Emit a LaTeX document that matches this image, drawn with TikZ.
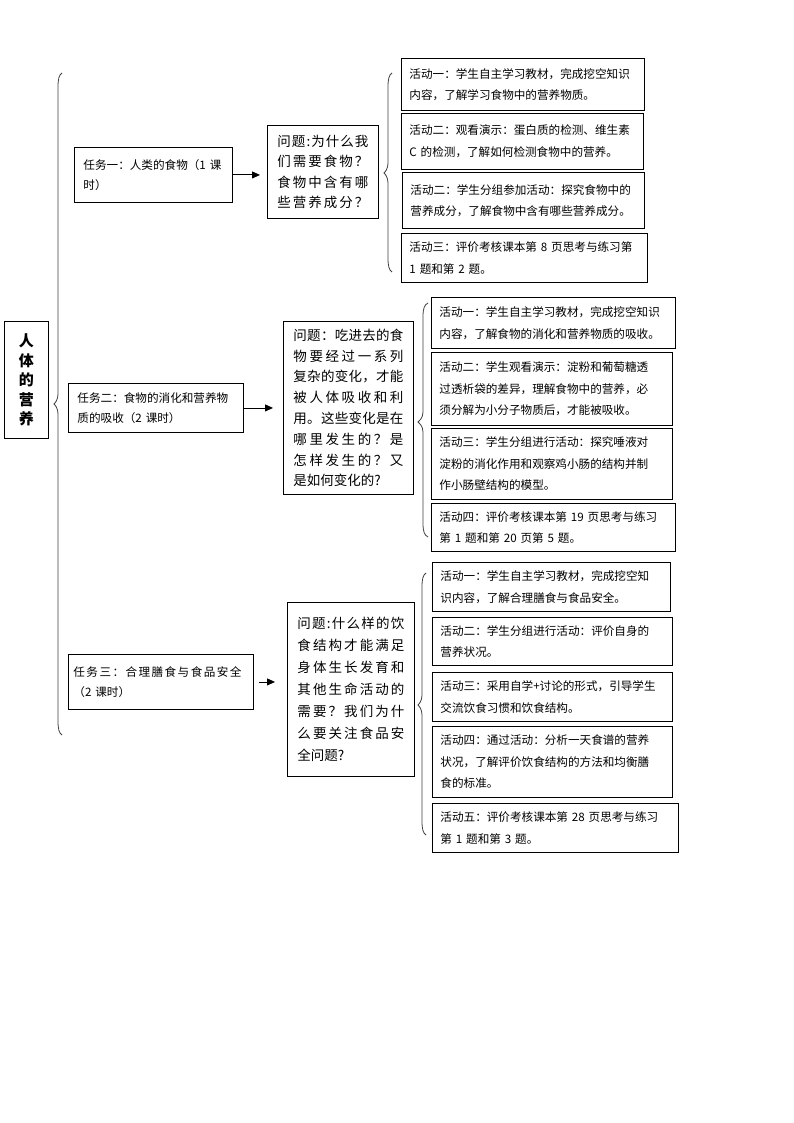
\documentclass[tikz,border=0pt]{standalone}
\usepackage{fontspec}
\setmainfont{Noto Sans CJK SC}
\usetikzlibrary{arrows.meta}
\makeatletter
\newcommand\jl[2][\hsize]{\makebox[#1][s]{\@tfor\jlc:=#2\do{\jlc\hfill}\unskip}}
\makeatother
\tikzset{
  bx/.style={draw=black, line width=0.9pt, anchor=north west, align=left, inner ysep=1pt},
  actbox/.style={bx, inner xsep=8pt, font=\fontsize{11.6}{21.5}\selectfont},
  taskbox/.style={bx, inner xsep=9pt, font=\fontsize{11.6}{20}\selectfont},
  qbox/.style={bx, inner xsep=10pt},
  titlebox/.style={bx, align=center, inner xsep=2pt, font=\fontsize{15}{19.5}\selectfont\bfseries},
  arr/.style={line width=0.9pt, -{Triangle[length=8pt,width=7pt]}},
  bracestyle/.style={draw=black!75, line width=0.8pt}
}
\newcommand\wbrace[6]{%
  \draw[bracestyle] (#1,#4) .. controls (#2+1,#4+2) and (#2,#4+6) .. (#2,#4+14)
    -- (#2,#5-10) .. controls (#2,#5-4) and (#3+1,#5-1) .. (#3,#5)
    .. controls (#3+1,#5+1) and (#2,#5+4) .. (#2,#5+10)
    -- (#2,#6-14) .. controls (#2,#6-6) and (#2+1,#6-2) .. (#1,#6);}
\begin{document}
\begin{tikzpicture}[x=1pt,y=-1pt]
\useasboundingbox (0,0) rectangle (794,1123);
\fill[white] (0,0) rectangle (794,1123);

% title
\node[titlebox, minimum width=44pt, minimum height=117pt] (title) at (4,321) {人\\体\\的\\营\\养};

% braces
\wbrace{62}{58}{54}{73}{404}{735}
\wbrace{392}{388}{384}{73}{173}{272}
\wbrace{428}{423}{418}{303}{422}{537}
\wbrace{426}{422}{418}{573}{705}{835}

% tasks
\node[taskbox, minimum width=158pt, minimum height=55pt, text width=140pt] (t1) at (74,147)
  {任务一：人类的食物（1 课\\时）};
\node[taskbox, minimum width=175pt, minimum height=49pt, text width=157pt] (t2) at (68,383)
  {任务二：食物的消化和营养物\\质的吸收（2 课时）};
\node[taskbox, inner xsep=5pt, minimum width=185pt, minimum height=55pt, text width=175pt] (t3) at (68,654)
  {\jl[168pt]{任务三：合理膳食与食品安全}\\（2 课时）};

% questions
\node[qbox, minimum width=111pt, minimum height=93pt, text width=91pt, font=\fontsize{13.5}{20.5}\selectfont] (q1) at (267,125)
  {\jl{问题:为什么我}\\\jl{们需要食物？}\\\jl{食物中含有哪}\\\jl{些营养成分？}};
\node[qbox, minimum width=130pt, minimum height=173pt, text width=110pt, font=\fontsize{13.5}{20.8}\selectfont] (q2) at (283,321)
  {\jl{问题：吃进去的食}\\\jl{物要经过一系列}\\\jl{复杂的变化，才能}\\\jl{被人体吸收和利}\\\jl{用。这些变化是在}\\\jl{哪里发生的？是}\\\jl{怎样发生的？又}\\是如何变化的?};
\node[qbox, minimum width=127pt, minimum height=174pt, text width=107pt, font=\fontsize{13.5}{22}\selectfont] (q3) at (287,602)
  {\jl{问题:什么样的饮}\\\jl{食结构才能满足}\\\jl{身体生长发育和}\\\jl{其他生命活动的}\\\jl{需要？我们为什}\\\jl{么要关注食品安}\\全问题?};

% arrows
\draw[arr, shorten >=7pt] (t1.east) -- (t1.east -| q1.west);
\draw[arr, shorten >=10pt] (t2.east) -- (t2.east -| q2.west);
\draw[arr, shorten <=5pt, shorten >=12pt] (t3.east) -- (t3.east -| q3.west);

% activities group 1
\node[actbox, minimum width=243pt, minimum height=52pt, text width=227pt] (a1) at (401,58)
  {活动一：学生自主学习教材，完成挖空知识\\内容，了解学习食物中的营养物质。};
\node[actbox, minimum width=242pt, minimum height=56pt, text width=226pt] (a2) at (401,113)
  {活动二：观看演示：蛋白质的检测、维生素\\C 的检测，了解如何检测食物中的营养。};
\node[actbox, minimum width=242pt, minimum height=56pt, text width=226pt] (a3) at (402,172)
  {活动二：学生分组参加活动：探究食物中的\\营养成分，了解食物中含有哪些营养成分。};
\node[actbox, minimum width=246pt, minimum height=49pt, text width=230pt] (a4) at (401,233)
  {活动三：评价考核课本第 8 页思考与练习第\\1 题和第 2 题。};

% activities group 2
\node[actbox, minimum width=244pt, minimum height=51pt, text width=228pt] (b1) at (431,297)
  {活动一：学生自主学习教材，完成挖空知识\\内容，了解食物的消化和营养物质的吸收。};
\node[actbox, minimum width=241pt, minimum height=73pt, text width=225pt] (b2) at (431,352)
  {活动二：学生观看演示：淀粉和葡萄糖透\\过透析袋的差异，理解食物中的营养，必\\须分解为小分子物质后，才能被吸收。};
\node[actbox, minimum width=241pt, minimum height=71pt, text width=225pt] (b3) at (431,428)
  {活动三：学生分组进行活动：探究唾液对\\淀粉的消化作用和观察鸡小肠的结构并制\\作小肠壁结构的模型。};
\node[actbox, minimum width=244pt, minimum height=48pt, text width=228pt] (b4) at (431,503)
  {活动四：评价考核课本第 19 页思考与练习\\第 1 题和第 20 页第 5 题。};

% activities group 3
\node[actbox, minimum width=238pt, minimum height=49pt, text width=222pt] (c1) at (432,562)
  {活动一：学生自主学习教材，完成挖空知\\识内容，了解合理膳食与食品安全。};
\node[actbox, minimum width=240pt, minimum height=48pt, text width=224pt] (c2) at (432,617)
  {活动二：学生分组进行活动：评价自身的\\营养状况。};
\node[actbox, minimum width=240pt, minimum height=49pt, text width=224pt] (c3) at (432,672)
  {活动三：采用自学+讨论的形式，引导学生\\交流饮食习惯和饮食结构。};
\node[actbox, minimum width=240pt, minimum height=71pt, text width=224pt] (c4) at (432,726)
  {活动四：通过活动：分析一天食谱的营养\\状况，了解评价饮食结构的方法和均衡膳\\食的标准。};
\node[actbox, minimum width=246pt, minimum height=49pt, text width=230pt] (c5) at (432,803)
  {活动五：评价考核课本第 28 页思考与练习\\第 1 题和第 3 题。};
\end{tikzpicture}
\end{document}
